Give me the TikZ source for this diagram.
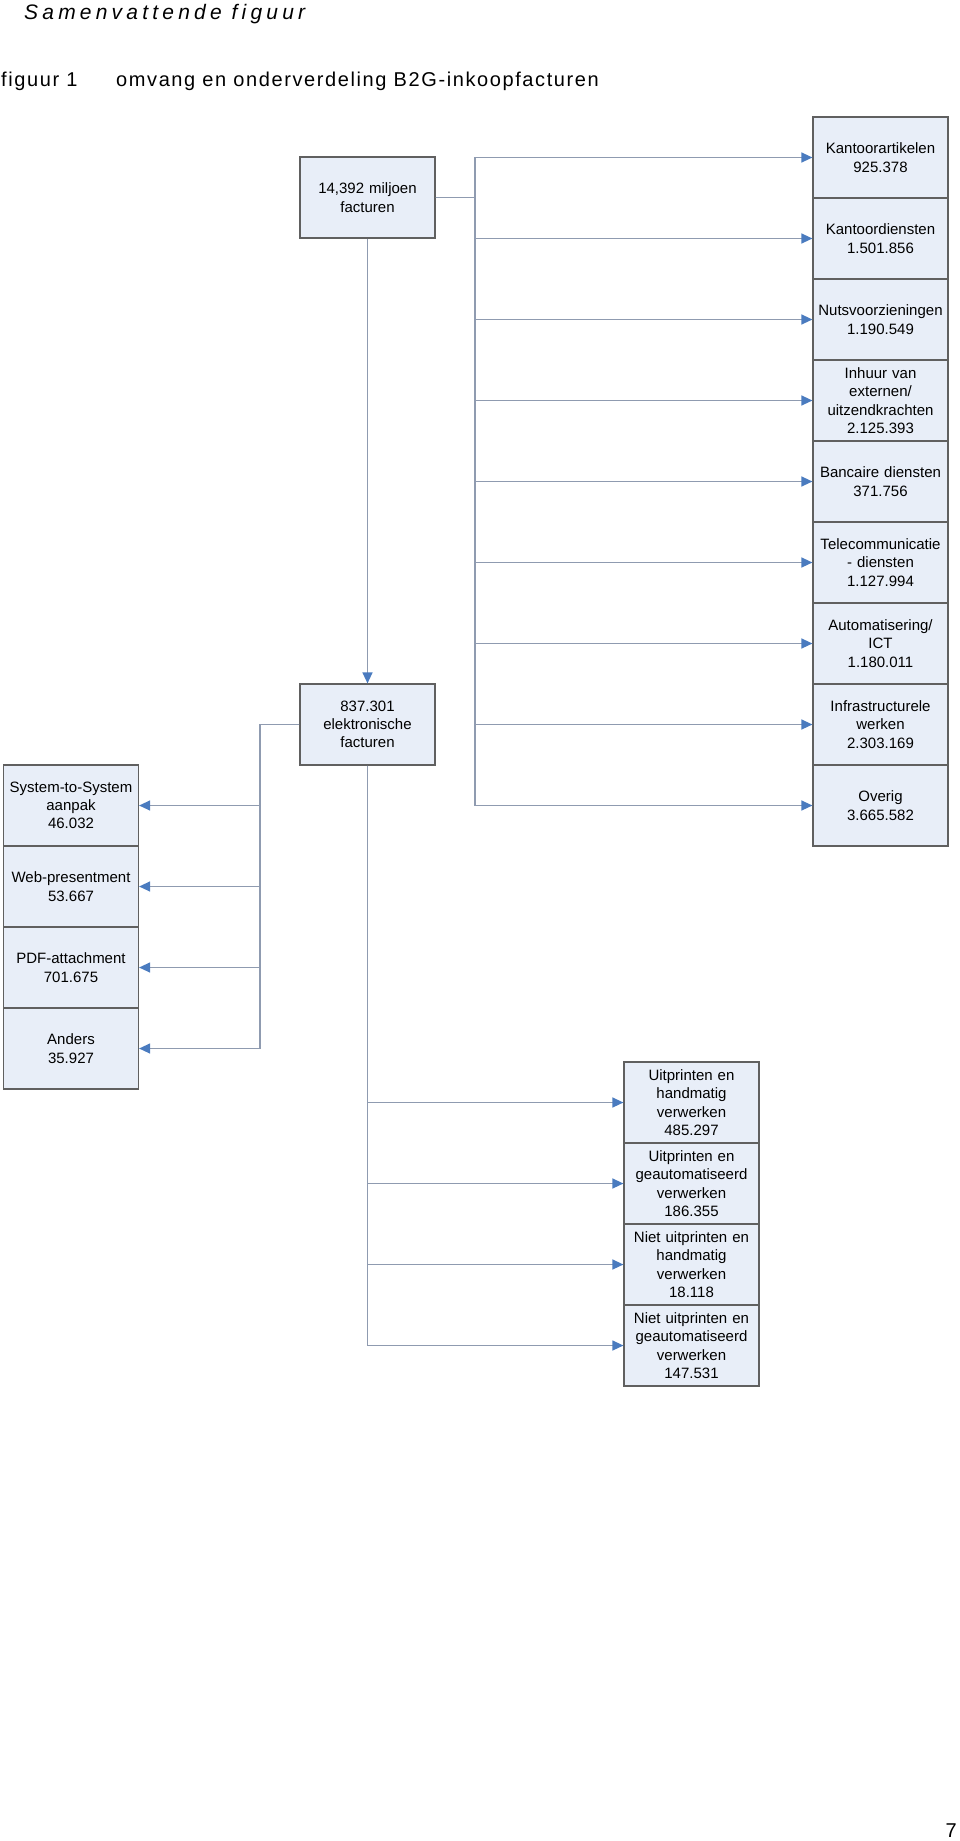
\documentclass[tikz,border=0pt]{standalone}
\usepackage{fontspec}
\setmainfont{Liberation Sans}
\newfontfamily\titlefont[LetterSpace=20]{Liberation Sans}
\newfontfamily\capfont[LetterSpace=8]{Liberation Sans}
\usetikzlibrary{arrows.meta}
\definecolor{boxfill}{HTML}{E8EEF8}
\definecolor{boxline}{HTML}{606060}
\definecolor{linecol}{HTML}{8F9BB0}
\definecolor{arrcol}{HTML}{4A7BBF}
\begin{document}
\begin{tikzpicture}[x=1pt,y=-1pt,
 box/.style={draw=boxline, line width=1.2pt, fill=boxfill, minimum width=135pt, minimum height=81pt, inner sep=0pt, text width=133pt, align=center, font=\fontsize{15}{18.3}\selectfont},
 conn/.style={draw=linecol, line width=1.3pt},
 arr/.style={conn, -{Triangle[length=11pt,width=10pt,color=arrcol]}},
 lbl/.style={anchor=base west, inner sep=0pt}]
\useasboundingbox (0,0) rectangle (960,1841);

% texts
\node[lbl, font=\titlefont\itshape\fontsize{21}{25}\selectfont] (title) at (24,19.5) {Samenvattende figuur};
\node[lbl, font=\capfont\fontsize{20}{24}\selectfont] (fig) at (1,87) {figuur 1};
\node[lbl, font=\capfont\fontsize{20}{24}\selectfont] (cap) at (116,87) {omvang en onderverdeling B2G-inkoopfacturen};
\node[anchor=base east, inner sep=0pt, font=\fontsize{20}{24}\selectfont] (pg) at (957,1837) {7};

% main boxes
\node[box] (top) at (367.5,197.5) {14,392 miljoen\\facturen};
\node[box] (elec) at (367.5,724.5) {837.301\\elektronische\\facturen};

% right column
\node[box] (r1) at (880.5,157.5) {Kantoorartikelen\\925.378};
\node[box] (r2) at (880.5,238.5) {Kantoordiensten\\1.501.856};
\node[box] (r3) at (880.5,319.5) {Nutsvoorzieningen\\1.190.549};
\node[box] (r4) at (880.5,400.5) {Inhuur van\\externen/\\uitzendkrachten\\2.125.393};
\node[box] (r5) at (880.5,481.5) {Bancaire diensten\\371.756};
\node[box] (r6) at (880.5,562.5) {Telecommunicatie\\- diensten\\1.127.994};
\node[box] (r7) at (880.5,643.5) {Automatisering/\\ICT\\1.180.011};
\node[box] (r8) at (880.5,724.5) {Infrastructurele\\werken\\2.303.169};
\node[box] (r9) at (880.5,805.5) {Overig\\3.665.582};

% left column
\node[box] (l1) at (71,805.5) {System-to-System\\aanpak\\46.032};
\node[box] (l2) at (71,886.5) {Web-presentment\\53.667};
\node[box] (l3) at (71,967.5) {PDF-attachment\\701.675};
\node[box] (l4) at (71,1048.5) {Anders\\35.927};

% bottom column
\node[box] (b1) at (691.5,1102.5) {Uitprinten en\\handmatig\\verwerken\\485.297};
\node[box] (b2) at (691.5,1183.5) {Uitprinten en\\geautomatiseerd\\verwerken\\186.355};
\node[box] (b3) at (691.5,1264.5) {Niet uitprinten en\\handmatig\\verwerken\\18.118};
\node[box] (b4) at (691.5,1345.5) {Niet uitprinten en\\geautomatiseerd\\verwerken\\147.531};

% bus coordinates
\coordinate (bR) at (475,197.5);
\coordinate (bL) at (260,724.5);

% connectors
\draw[arr] (top.south) -- (elec.north);
\foreach \n in {r1,r2,r3,r4,r5,r6,r7,r8,r9}
  \draw[arr] (top.east) -- (bR) |- (\n.west);
\foreach \n in {l1,l2,l3,l4}
  \draw[arr] (elec.west) -- (bL) |- (\n.east);
\foreach \n in {b1,b2,b3,b4}
  \draw[arr] (elec.south) |- (\n.west);
\end{tikzpicture}
\end{document}
